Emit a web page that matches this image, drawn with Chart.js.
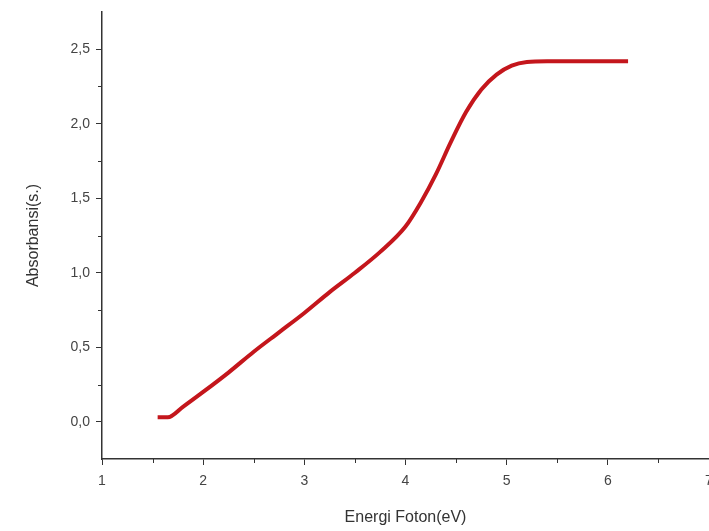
<!DOCTYPE html>
<html>
<head>
<meta charset="utf-8">
<script src="https://cdn.jsdelivr.net/npm/chart.js@4/dist/chart.umd.min.js"></script>
<style>
  html, body { margin: 0; padding: 0; background: #fff; }
  #wrap { width: 709px; height: 531px; }
</style>
</head>
<body>
<div id="wrap"><canvas id="c" width="709" height="531"></canvas></div>
<script>
// photon energy (eV) and absorbance
const energy = [1.55, 1.65, 1.8, 2.0, 2.25, 2.5, 2.75, 3.0, 3.25, 3.5, 3.75, 4.0,
  4.15, 4.3, 4.45, 4.6, 4.75, 4.9, 5.05, 5.2, 5.4, 5.8, 6.2];
const absorbance = [0.03, 0.03, 0.1, 0.2, 0.33, 0.47, 0.6, 0.73, 0.87, 1.0, 1.14, 1.31,
  1.47, 1.66, 1.88, 2.08, 2.23, 2.33, 2.39, 2.415, 2.42, 2.42, 2.42];
const xTicks = [1, 2, 3, 4, 5, 6, 7];
const yTicks = [0, 0.5, 1.0, 1.5, 2.0, 2.5];

const points = energy.map((x, i) => ({ x: x, y: absorbance[i] }));
const axisColor = "#333";
const font = { family: "'Liberation Sans', Arial, sans-serif", size: 14 };

// short minor ticks between the labelled ones
const minorTicks = {
  id: "minorTicks",
  afterDraw(chart) {
    const { ctx, chartArea, scales } = chart;
    ctx.save();
    ctx.strokeStyle = axisColor;
    ctx.lineWidth = 1;
    ctx.beginPath();
    for (let v = 1.5; v < 7; v += 1) {
      const px = Math.round(scales.x.getPixelForValue(v)) + 0.5;
      ctx.moveTo(px, chartArea.bottom);
      ctx.lineTo(px, chartArea.bottom + 4);
    }
    for (let v = 0.25; v < 2.75; v += 0.5) {
      const py = Math.round(scales.y.getPixelForValue(v)) + 0.5;
      ctx.moveTo(chartArea.left, py);
      ctx.lineTo(chartArea.left - 4, py);
    }
    ctx.stroke();
    ctx.restore();
  }
};

new Chart(document.getElementById("c"), {
  type: "line",
  data: {
    datasets: [{
      data: points,
      borderColor: "#c4161c",
      borderWidth: 4,
      pointRadius: 0,
      cubicInterpolationMode: "monotone",
      borderCapStyle: "butt",
      fill: false
    }]
  },
  options: {
    responsive: false,
    animation: false,
    layout: { padding: { top: 12, right: 0, left: 20, bottom: 0 } },
    plugins: { legend: { display: false }, tooltip: { enabled: false } },
    scales: {
      x: {
        type: "linear",
        min: 1,
        max: 7,
        afterBuildTicks: (s) => { s.ticks = xTicks.map(v => ({ value: v })); },
        afterFit: (s) => { s.height = 72; s.paddingLeft = 0; s.paddingRight = 0; },
        ticks: { color: "#444", font: font, padding: 8 },
        grid: { drawOnChartArea: false, tickLength: 6, tickColor: axisColor },
        border: { color: axisColor, width: 1.5 },
        title: {
          display: true,
          text: "Energi Foton(eV)",
          color: "#333",
          font: { family: font.family, size: 16 },
          padding: { top: 4 }
        }
      },
      y: {
        type: "linear",
        min: -0.25,
        max: 2.75,
        afterBuildTicks: (s) => { s.ticks = yTicks.map(v => ({ value: v })); },
        afterFit: (s) => { s.width = 82; s.paddingTop = 0; s.paddingBottom = 0; },
        ticks: {
          color: "#444",
          font: font,
          padding: 6,
          callback: (v) => Number(v).toFixed(1).replace(".", ",")
        },
        grid: { drawOnChartArea: false, tickLength: 6, tickColor: axisColor },
        border: { color: axisColor, width: 1.5 },
        title: {
          display: true,
          text: "Absorbansi(s.)",
          color: "#333",
          font: { family: font.family, size: 16 },
          padding: { bottom: 12 }
        }
      }
    }
  },
  plugins: [minorTicks]
});
</script>
</body>
</html>
